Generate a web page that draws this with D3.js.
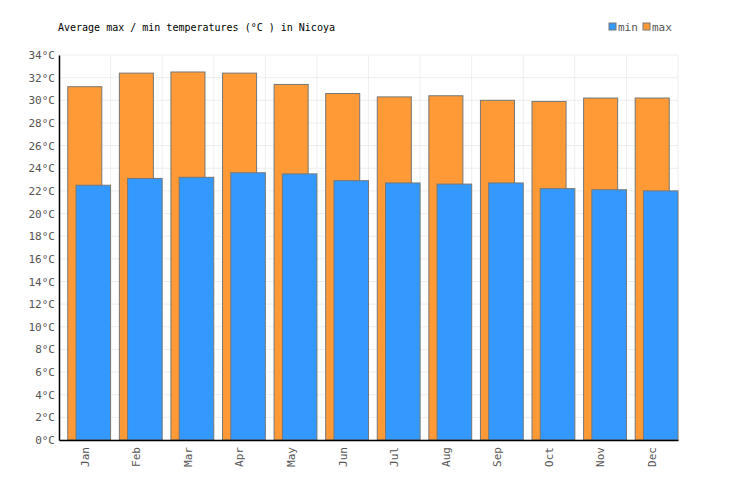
<!DOCTYPE html>
<html><head><meta charset="utf-8">
<script src="https://cdn.jsdelivr.net/npm/d3@7"></script>
<style>body{margin:0;background:#fff}text{font-family:"DejaVu Sans Mono",monospace;fill:#555}</style>
</head><body><svg id="c" width="736" height="500"></svg>
<script>
var months = ["Jan","Feb","Mar","Apr","May","Jun","Jul","Aug","Sep","Oct","Nov","Dec"];
var maxTemps = [31.2,32.4,32.5,32.4,31.4,30.6,30.3,30.4,30.0,29.9,30.2,30.2];
var minTemps = [22.5,23.1,23.2,23.6,23.5,22.9,22.7,22.6,22.7,22.2,22.1,22.0];
var yTicks = d3.range(0, 35, 2);

var svg = d3.select("#c");
var mLeft = 59, mRight = 678, mTop = 55, mBottom = 440;

var x = d3.scaleBand().domain(months).range([mLeft, mRight]);
var y = d3.scaleLinear().domain([0, 34]).range([mBottom, mTop]);

// grid
var g = svg.append("g");
g.selectAll(".h").data(yTicks).enter().append("line")
    .attr("x1", mLeft).attr("x2", mRight)
    .attr("y1", function(d) { return y(d); }).attr("y2", function(d) { return y(d); })
    .attr("stroke", "#eee");
g.selectAll(".v").data(months).enter().append("line")
    .attr("x1", function(d) { return x(d) + x.bandwidth(); }).attr("x2", function(d) { return x(d) + x.bandwidth(); })
    .attr("y1", mTop).attr("y2", mBottom)
    .attr("stroke", "#eee");

var bw = x.bandwidth();
svg.selectAll(".mx").data(maxTemps).enter().append("rect")
    .attr("x", function(d, i) { return x(months[i]) + bw * 0.17; })
    .attr("width", bw * 0.66)
    .attr("y", function(d) { return y(d); })
    .attr("height", function(d) { return mBottom - y(d); })
    .attr("fill", "#ff9a36").attr("stroke", "#777").attr("stroke-width", 1);
svg.selectAll(".mn").data(minTemps).enter().append("rect")
    .attr("x", function(d, i) { return x(months[i]) + bw * 0.33; })
    .attr("width", bw * 0.67)
    .attr("y", function(d) { return y(d); })
    .attr("height", function(d) { return mBottom - y(d); })
    .attr("fill", "#3399ff").attr("stroke", "#777").attr("stroke-width", 1);

// axes
var ya = svg.append("g").attr("transform", "translate(" + mLeft + ",0)")
    .call(d3.axisLeft(y).tickValues(yTicks).tickSize(0).tickPadding(4).tickFormat(function(d) { return d + "°C"; }));
ya.select(".domain").attr("stroke", "#000").attr("stroke-width", 1.5);
ya.selectAll("text").attr("font-size", 11).style("fill", "#555");

var xa = svg.append("g").attr("transform", "translate(0," + mBottom + ")")
    .call(d3.axisBottom(x).tickSize(0).tickSizeOuter(0));
xa.select(".domain").attr("stroke", "#000").attr("stroke-width", 1.5);
xa.selectAll("text").attr("font-size", 11).style("fill", "#555")
    .attr("transform", "rotate(-90)").attr("text-anchor", "end")
    .attr("x", -7).attr("y", 0).attr("dy", "0.35em");

svg.append("text").attr("x", 58).attr("y", 31).attr("font-size", 10).style("fill", "#000")
    .text("Average max / min temperatures (°C ) in Nicoya");

// legend
var legend = [["min", "#3399ff", 609], ["max", "#ff9a36", 643]];
legend.forEach(function(l) {
    svg.append("rect").attr("x", l[2]).attr("y", 23).attr("width", 7).attr("height", 7)
        .attr("fill", l[1]).attr("stroke", "#777");
    svg.append("text").attr("x", l[2] + 9).attr("y", 31).attr("font-size", 11).text(l[0]);
});
</script></body></html>
